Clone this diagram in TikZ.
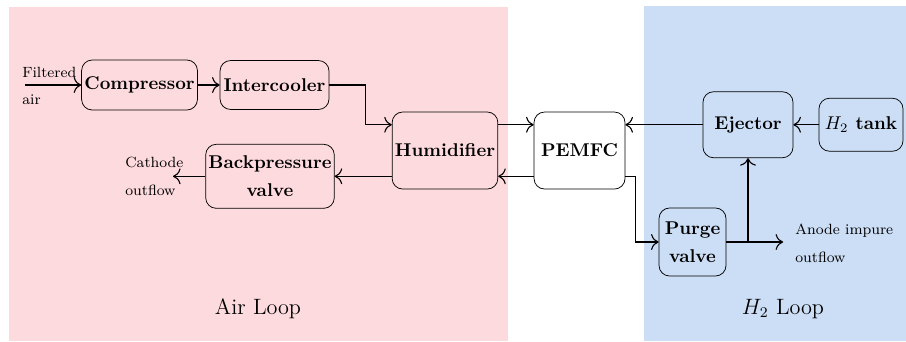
\documentclass[tikz,border=0pt]{standalone}
\usetikzlibrary{arrows.meta}
\definecolor{airpink}{RGB}{253,218,222}
\definecolor{hydroblue}{RGB}{204,222,245}

\begin{document}
\begin{tikzpicture}

		\tikzstyle{block}=[rectangle,
			draw=black,rounded corners=2mm,
			font=\bfseries,align=center,
			inner sep=1.5pt]
		\tikzstyle{arrow}=[->,>={To[scale=1.4]},
			draw=black,semithick]
		\tikzstyle{flowtext}=[font=\footnotesize,
			align=left,anchor=west,inner sep=0pt]
		\tikzstyle{looptext}=[font=\large]

		\useasboundingbox	(0,0) rectangle (17.214,-6.479);
		\fill[airpink]	(0.171,-0.133) rectangle (9.652,-6.479);
		\fill[hydroblue]	(12.236,-0.114) rectangle (17.214,-6.479);

		% air loop
		\node[block,minimum width=2.147cm,minimum height=0.95cm]	(compressor)	at (2.651,-1.615)	{Compressor};
		\node[block,minimum width=2.071cm,minimum height=0.93cm,right of=compressor,node distance=2.565cm]	(intercooler)	{Intercooler};
		\node[block,minimum width=1.976cm,minimum height=1.463cm]	(humidifier)	at (8.455,-2.86)	{Humidifier};
		\node[block,minimum width=2.394cm,minimum height=1.216cm]	(backpressure)	at (5.13,-3.35)	{Backpressure\\[3pt]valve};
		\node[block,minimum width=1.729cm,minimum height=1.463cm,right of=humidifier,node distance=2.556cm]	(pemfc)	{PEMFC};

		% hydrogen loop
		\node[block,minimum width=1.71cm,minimum height=1.254cm]	(ejector)	at (14.212,-2.37)	{Ejector};
		\node[block,minimum width=1.596cm,minimum height=1.007cm,right of=ejector,node distance=2.147cm]	(tank)	{$H_2$ tank};
		\node[block,minimum width=1.273cm,minimum height=1.292cm]	(purge)	at (13.158,-4.598)	{Purge\\[3pt]valve};

		% inlet and outlet texts
		\node[flowtext]	(airtext)	at (0.418,-1.634)	{Filtered\\[5.5pt]air};
		\node[flowtext]	(cathode)	at (2.375,-3.35)	{Cathode\\[5.5pt]outflow};
		\node[flowtext]	(anode)	at (15.105,-4.62)	{Anode impure\\[5.5pt]outflow};
		\coordinate	(airin)	at (0.475,-1.615);
		\coordinate	(cathodeout)	at (3.287,-3.35);
		\coordinate	(anodeout)	at (14.88,-4.598);

		\node[looptext]	(airloop)	at (4.902,-5.871)	{Air Loop};
		\node[looptext]	(hloop)	at (14.877,-5.871)	{$H_2$ Loop};

		\draw[arrow]	(airin)		--	(compressor);
		\draw[arrow]	(compressor)	--	(intercooler);
		\draw[arrow]	(intercooler.east)	-- ++(0.684,0) |-	([yshift=0.49cm]humidifier.west);
		\draw[arrow]	([yshift=0.49cm]humidifier.east)	--	([yshift=0.49cm]pemfc.west);
		\draw[arrow]	([yshift=-0.49cm]pemfc.west)	--	([yshift=-0.49cm]humidifier.east);
		\draw[arrow]	([yshift=-0.49cm]humidifier.west)	--	(backpressure.east);
		\draw[arrow]	(backpressure.west)	--	(cathodeout);

		\draw[arrow]	(tank)		--	(ejector);
		\draw[arrow]	(ejector.west)	--	([yshift=0.49cm]pemfc.east);
		\draw[arrow]	([yshift=-0.49cm]pemfc.east)	-- ++(0.19,0) |-	(purge.west);
		\draw[arrow]	(purge.east)	--	(anodeout);
		\draw[arrow]	(purge.east -| ejector.south)	--	(ejector.south);

	\end{tikzpicture}
\end{document}
